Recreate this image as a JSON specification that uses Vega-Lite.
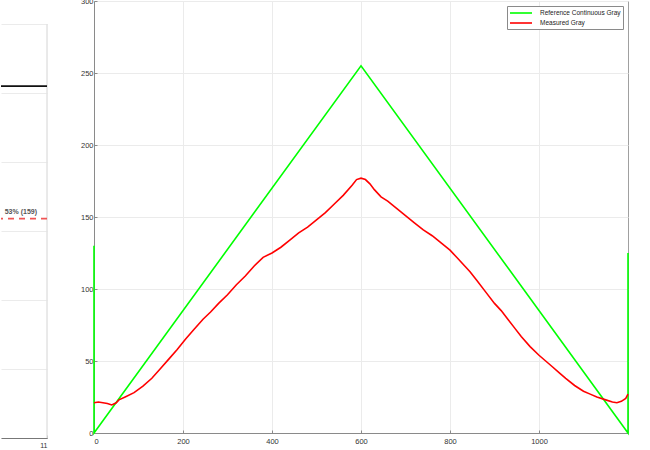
{
  "$schema": "https://vega.github.io/schema/vega-lite/v6.json",
  "padding": {"left": 0, "top": -4, "right": 0, "bottom": 0},
  "background": "white",
  "spacing": 25,
  "resolve": {"legend": {"color": "independent"}},
  "config": {
    "font": "Liberation Sans",
    "axis": {"labelFont": "Liberation Sans", "labelFontSize": 7.5, "labelColor": "#333333", "domainColor": "#8a8a8a", "tickColor": "#8a8a8a", "gridColor": "#ebebeb", "title": null}
  },
  "datasets": {
    "lines": [
      {"i": 1, "x": 0, "value": 130, "series": "Reference Continuous Gray"},
      {"i": 2, "x": 0, "value": 0, "series": "Reference Continuous Gray"},
      {"i": 3, "x": 600, "value": 255, "series": "Reference Continuous Gray"},
      {"i": 4, "x": 1200, "value": 0, "series": "Reference Continuous Gray"},
      {"i": 5, "x": 1200, "value": 125, "series": "Reference Continuous Gray"},
      {"i": 1, "x": 0, "value": 21, "series": "Measured Gray"},
      {"i": 2, "x": 10, "value": 21.5, "series": "Measured Gray"},
      {"i": 3, "x": 20, "value": 21, "series": "Measured Gray"},
      {"i": 4, "x": 30, "value": 20.5, "series": "Measured Gray"},
      {"i": 5, "x": 40, "value": 19.5, "series": "Measured Gray"},
      {"i": 6, "x": 50, "value": 21, "series": "Measured Gray"},
      {"i": 7, "x": 56, "value": 23, "series": "Measured Gray"},
      {"i": 8, "x": 70, "value": 25, "series": "Measured Gray"},
      {"i": 9, "x": 90, "value": 28, "series": "Measured Gray"},
      {"i": 10, "x": 110, "value": 32.5, "series": "Measured Gray"},
      {"i": 11, "x": 130, "value": 38, "series": "Measured Gray"},
      {"i": 12, "x": 150, "value": 45, "series": "Measured Gray"},
      {"i": 13, "x": 170, "value": 52, "series": "Measured Gray"},
      {"i": 14, "x": 187, "value": 58, "series": "Measured Gray"},
      {"i": 15, "x": 205, "value": 65, "series": "Measured Gray"},
      {"i": 16, "x": 225, "value": 72, "series": "Measured Gray"},
      {"i": 17, "x": 245, "value": 79, "series": "Measured Gray"},
      {"i": 18, "x": 262, "value": 84, "series": "Measured Gray"},
      {"i": 19, "x": 280, "value": 90, "series": "Measured Gray"},
      {"i": 20, "x": 300, "value": 96, "series": "Measured Gray"},
      {"i": 21, "x": 320, "value": 103, "series": "Measured Gray"},
      {"i": 22, "x": 340, "value": 109, "series": "Measured Gray"},
      {"i": 23, "x": 360, "value": 116, "series": "Measured Gray"},
      {"i": 24, "x": 380, "value": 122, "series": "Measured Gray"},
      {"i": 25, "x": 400, "value": 125, "series": "Measured Gray"},
      {"i": 26, "x": 420, "value": 129, "series": "Measured Gray"},
      {"i": 27, "x": 440, "value": 134, "series": "Measured Gray"},
      {"i": 28, "x": 460, "value": 139, "series": "Measured Gray"},
      {"i": 29, "x": 480, "value": 143, "series": "Measured Gray"},
      {"i": 30, "x": 500, "value": 148, "series": "Measured Gray"},
      {"i": 31, "x": 520, "value": 153, "series": "Measured Gray"},
      {"i": 32, "x": 540, "value": 159, "series": "Measured Gray"},
      {"i": 33, "x": 560, "value": 165, "series": "Measured Gray"},
      {"i": 34, "x": 580, "value": 172, "series": "Measured Gray"},
      {"i": 35, "x": 590, "value": 176, "series": "Measured Gray"},
      {"i": 36, "x": 600, "value": 177, "series": "Measured Gray"},
      {"i": 37, "x": 610, "value": 176, "series": "Measured Gray"},
      {"i": 38, "x": 620, "value": 173, "series": "Measured Gray"},
      {"i": 39, "x": 630, "value": 169, "series": "Measured Gray"},
      {"i": 40, "x": 645, "value": 164, "series": "Measured Gray"},
      {"i": 41, "x": 660, "value": 161, "series": "Measured Gray"},
      {"i": 42, "x": 680, "value": 156, "series": "Measured Gray"},
      {"i": 43, "x": 700, "value": 151, "series": "Measured Gray"},
      {"i": 44, "x": 720, "value": 146, "series": "Measured Gray"},
      {"i": 45, "x": 740, "value": 141, "series": "Measured Gray"},
      {"i": 46, "x": 760, "value": 137, "series": "Measured Gray"},
      {"i": 47, "x": 780, "value": 132, "series": "Measured Gray"},
      {"i": 48, "x": 800, "value": 127, "series": "Measured Gray"},
      {"i": 49, "x": 815, "value": 122, "series": "Measured Gray"},
      {"i": 50, "x": 830, "value": 117, "series": "Measured Gray"},
      {"i": 51, "x": 845, "value": 112, "series": "Measured Gray"},
      {"i": 52, "x": 860, "value": 106, "series": "Measured Gray"},
      {"i": 53, "x": 880, "value": 98, "series": "Measured Gray"},
      {"i": 54, "x": 900, "value": 90, "series": "Measured Gray"},
      {"i": 55, "x": 915, "value": 85, "series": "Measured Gray"},
      {"i": 56, "x": 930, "value": 79, "series": "Measured Gray"},
      {"i": 57, "x": 945, "value": 73, "series": "Measured Gray"},
      {"i": 58, "x": 960, "value": 67, "series": "Measured Gray"},
      {"i": 59, "x": 980, "value": 60, "series": "Measured Gray"},
      {"i": 60, "x": 1000, "value": 54, "series": "Measured Gray"},
      {"i": 61, "x": 1015, "value": 50, "series": "Measured Gray"},
      {"i": 62, "x": 1030, "value": 46, "series": "Measured Gray"},
      {"i": 63, "x": 1045, "value": 42, "series": "Measured Gray"},
      {"i": 64, "x": 1060, "value": 38, "series": "Measured Gray"},
      {"i": 65, "x": 1080, "value": 33, "series": "Measured Gray"},
      {"i": 66, "x": 1100, "value": 29, "series": "Measured Gray"},
      {"i": 67, "x": 1115, "value": 27, "series": "Measured Gray"},
      {"i": 68, "x": 1130, "value": 25, "series": "Measured Gray"},
      {"i": 69, "x": 1150, "value": 23, "series": "Measured Gray"},
      {"i": 70, "x": 1165, "value": 21.5, "series": "Measured Gray"},
      {"i": 71, "x": 1175, "value": 21, "series": "Measured Gray"},
      {"i": 72, "x": 1185, "value": 22, "series": "Measured Gray"},
      {"i": 73, "x": 1195, "value": 24, "series": "Measured Gray"},
      {"i": 74, "x": 1200, "value": 27, "series": "Measured Gray"}
    ],
    "levels": [
      {"kind": "reference", "level": 255, "label": ""},
      {"kind": "threshold", "level": 159, "label": "53% (159)"}
    ]
  },
  "hconcat": [
    {
      "width": 46,
      "height": 437,
      "view": {"stroke": null},
      "data": {"name": "levels"},
      "encoding": {
        "y": {"field": "level", "type": "quantitative", "scale": {"domain": [0, 300], "nice": false, "range": [437, 23]},
              "axis": {"labels": false, "ticks": false, "domain": false, "grid": true, "values": [0, 50, 100, 150, 200, 250, 300], "maxExtent": 0, "minExtent": 0}}
      },
      "layer": [
        {
          "mark": {"type": "rule", "color": "#e2e2e2", "strokeWidth": 1},
          "encoding": {
            "x": {"datum": 11, "type": "quantitative"},
            "y": {"datum": 0, "type": "quantitative"},
            "y2": {"datum": 300}
          }
        },
        {
          "transform": [{"filter": "datum.kind === 'reference'"}],
          "mark": {"type": "rule", "color": "#111111", "strokeWidth": 1.6}
        },
        {
          "transform": [{"filter": "datum.kind === 'threshold'"}],
          "mark": {"type": "rule", "color": "#f05555", "strokeWidth": 1.6, "strokeDash": [6, 5]}
        },
        {
          "transform": [{"filter": "datum.kind === 'threshold'"}],
          "mark": {"type": "text", "align": "right", "baseline": "bottom", "dy": -4, "dx": -10, "fontSize": 7, "fontWeight": "bold", "color": "#555555"},
          "encoding": {
            "x": {"datum": 11, "type": "quantitative", "scale": {"domain": [10.2, 11], "nice": false},
                  "axis": {"values": [11], "grid": false, "tickSize": -3, "labelPadding": 6, "labelFontSize": 7, "domainColor": "#777777"}},
            "text": {"field": "label"}
          }
        }
      ]
    },
    {
      "width": 534,
      "height": 432,
      "view": {"stroke": "#a0a0a0"},
      "data": {"name": "lines"},
      "mark": {"type": "line", "strokeWidth": 1.6, "interpolate": "linear"},
      "encoding": {
        "x": {"field": "x", "type": "quantitative", "scale": {"domain": [0, 1200], "nice": false},
              "axis": {"values": [0, 200, 400, 600, 800, 1000], "format": "d", "tickSize": -3, "labelPadding": 7}},
        "y": {"field": "value", "type": "quantitative", "scale": {"domain": [0, 300], "nice": false},
              "axis": {"values": [0, 50, 100, 150, 200, 250, 300], "tickSize": -3, "labelPadding": 4, "minExtent": 20, "maxExtent": 20}},
        "color": {"field": "series", "type": "nominal",
                  "scale": {"domain": ["Reference Continuous Gray", "Measured Gray"], "range": ["#00ff00", "#ff0000"]},
                  "legend": {"title": null, "orient": "top-right", "offset": 5, "padding": 2, "strokeColor": "#8a8a8a", "fillColor": "white",
                             "labelFontSize": 6.5, "labelColor": "#222222", "symbolType": "M-1,0H4.5", "symbolSize": 64, "symbolStrokeWidth": 1.6,
                             "rowPadding": 1, "labelOffset": 21, "cornerRadius": 0}},
        "order": {"field": "i", "type": "quantitative"},
        "detail": {"field": "series"}
      }
    }
  ]
}
